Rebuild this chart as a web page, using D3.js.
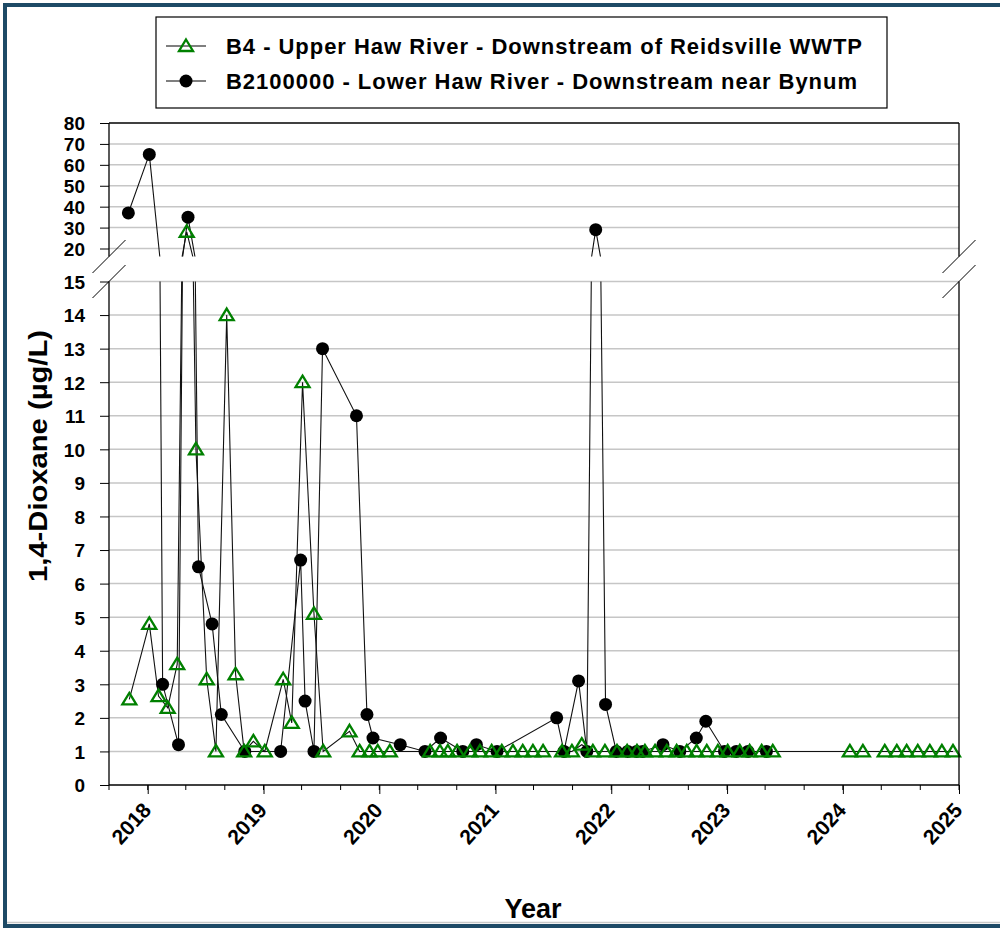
<!DOCTYPE html>
<html>
<head>
<meta charset="utf-8">
<script src="https://cdn.jsdelivr.net/npm/d3@7"></script>
<style>
body { margin: 0; background: #fff; }
text { font-family: "Liberation Sans", Arial, sans-serif; font-weight: bold; fill: #000; }
</style>
</head>
<body>
<div id="chart"></div>
<script>
// B4 - Upper Haw River (green triangles)
var b4Dates = ["2017-11-04","2018-01-06","2018-02-04","2018-03-05","2018-04-04","2018-05-04","2018-06-02","2018-07-06",
  "2018-08-04","2018-09-07","2018-10-05","2018-11-01","2018-11-30","2019-01-05","2019-03-04","2019-03-31","2019-05-04",
  "2019-06-09","2019-07-08","2019-09-29","2019-10-31","2019-12-01","2019-12-27","2020-02-03","2020-06-09","2020-07-10",
  "2020-08-04","2020-09-02","2020-10-13","2020-11-13","2020-12-20","2021-01-21","2021-02-25","2021-03-28","2021-04-29",
  "2021-05-31","2021-07-30","2021-08-30","2021-09-30","2021-11-04","2021-12-12","2022-01-19","2022-02-20","2022-03-23",
  "2022-04-17","2022-05-19","2022-06-25","2022-07-26","2022-08-27","2022-09-27","2022-10-29","2022-12-03","2023-01-03",
  "2023-02-10","2023-03-13","2023-04-20","2023-05-25","2024-01-23","2024-03-04","2024-05-12","2024-06-19","2024-07-20",
  "2024-08-24","2024-10-01","2024-11-08","2024-12-13"];
var b4Values = [2.55,4.8,2.65,2.3,3.6,28,10,3.15,
  1,14,3.3,1,1.3,1,3.15,1.85,12,
  5.1,1,1.6,1,1,1,1,1,1,
  1,1,1,1,1,1,1,1,1,
  1,1,1,1.2,1,1,1,1,1,
  1,1,1,1,1,1,1,1,1,
  1,1,1,1,1,1,1,1,1,
  1,1,1,1];

// B2100000 - Lower Haw River near Bynum (black circles)
var bynumDates = ["2017-11-01","2018-01-06","2018-02-17","2018-04-08","2018-05-08","2018-06-10","2018-07-23","2018-08-21",
  "2018-11-03","2019-02-24","2019-04-28","2019-05-12","2019-06-09","2019-07-06","2019-10-21","2019-11-23","2019-12-12",
  "2020-03-07","2020-05-24","2020-07-12","2020-09-20","2020-11-02","2021-01-06","2021-07-13","2021-08-05","2021-09-20",
  "2021-10-16","2021-11-13","2021-12-14","2022-01-17","2022-02-22","2022-03-22","2022-04-10","2022-06-13","2022-08-05",
  "2022-09-26","2022-10-26","2022-12-24","2023-01-30","2023-03-08","2023-05-05"];
var bynumValues = [37,65,3,1.2,35,6.5,4.8,2.1,
  1,1,6.7,2.5,1,13,11,2.1,1.4,
  1.2,1,1.4,1,1.2,1,2,1,3.1,
  1,29,2.4,1,1,1,1,1.2,1,
  1.4,1.9,1,1,1,1];

var lowTicks = [0,1,2,3,4,5,6,7,8,9,10,11,12,13,14,15];
var highTicks = [20,30,40,50,60,70,80];
var yearTicks = [2018,2019,2020,2021,2022,2023,2024,2025];
var legendLabels = ["B4 - Upper Haw River - Downstream of Reidsville WWTP",
                    "B2100000 - Lower Haw River - Downstream near Bynum"];

var W = 1000, H = 931;
var pLeft = 109, pRight = 959, pTop = 123, pBottom = 785;
var lowTop = 281.5, highBottom = 256.5;
var green = "#008000";

var parse = d3.timeParse("%Y-%m-%d");
var b4 = b4Dates.map(function(d, i){ return {date: parse(d), value: b4Values[i]}; });
var bynum = bynumDates.map(function(d, i){ return {date: parse(d), value: bynumValues[i]}; });

var x = d3.scaleTime().domain([new Date(2017, 8, 1), new Date(2025, 0, 1)]).range([pLeft, pRight]);
var yLow = d3.scaleLinear().domain([0, 15]).range([pBottom, lowTop]);
var yHigh = d3.scaleLinear().domain([20, 80]).range([248.5, pTop]);
function yOf(v){ return v > 15.5 ? yHigh(v) : yLow(v); }

var svg = d3.select("#chart").append("svg").attr("width", W).attr("height", H);

// frame
svg.append("rect").attr("x", 0).attr("y", 0).attr("width", W).attr("height", H).attr("fill", "#fff");
svg.append("rect").attr("x", 5).attr("y", 5).attr("width", 1000).attr("height", 921)
  .attr("fill", "none").attr("stroke", "#1d4a66").attr("stroke-width", 4);
svg.append("line").attr("x1", 7).attr("x2", W).attr("y1", 922.5).attr("y2", 922.5)
  .attr("stroke", "#c8c8c8").attr("stroke-width", 1.5);

var defs = svg.append("defs");
defs.append("clipPath").attr("id", "clipLow").append("rect")
  .attr("x", pLeft).attr("y", lowTop).attr("width", pRight - pLeft).attr("height", pBottom - lowTop);
defs.append("clipPath").attr("id", "clipHigh").append("rect")
  .attr("x", pLeft).attr("y", pTop).attr("width", pRight - pLeft).attr("height", highBottom - pTop);

// gridlines
svg.append("g").selectAll("line").data(lowTicks.filter(function(d){ return d > 0; })).enter().append("line")
  .attr("x1", pLeft).attr("x2", pRight).attr("y1", function(d){ return yLow(d); }).attr("y2", function(d){ return yLow(d); })
  .attr("stroke", "#c6c6c6").attr("stroke-width", 1.5);
svg.append("g").selectAll("line").data(highTicks.filter(function(d){ return d < 80; })).enter().append("line")
  .attr("x1", pLeft).attr("x2", pRight).attr("y1", function(d){ return yHigh(d); }).attr("y2", function(d){ return yHigh(d); })
  .attr("stroke", "#c6c6c6").attr("stroke-width", 1.5);

// lines, drawn once per panel so the break cuts them in data space
[["clipLow", yLow], ["clipHigh", yHigh]].forEach(function(p){
  var line = d3.line().x(function(d){ return x(d.date); }).y(function(d){ return p[1](d.value); });
  var g = svg.append("g").attr("clip-path", "url(#" + p[0] + ")");
  [bynum, b4].forEach(function(s){
    g.append("path").datum(s).attr("d", line).attr("fill", "none").attr("stroke", "#111").attr("stroke-width", 1.1);
  });
});

// markers
svg.append("g").selectAll("circle").data(bynum).enter().append("circle")
  .attr("cx", function(d){ return x(d.date); }).attr("cy", function(d){ return yOf(d.value); })
  .attr("r", 6.5).attr("fill", "#000");

function tri(cx, cy){
  return "M" + cx + "," + (cy - 6.5) + "L" + (cx + 7) + "," + (cy + 5) + "L" + (cx - 7) + "," + (cy + 5) + "Z";
}
svg.append("g").selectAll("path").data(b4).enter().append("path")
  .attr("d", function(d){ return tri(x(d.date), yOf(d.value)); })
  .attr("fill", "none").attr("stroke", green).attr("stroke-width", 2.3).attr("stroke-linejoin", "miter");

// axes
var axLow = svg.append("g").attr("transform", "translate(" + pLeft + ",0)")
  .call(d3.axisLeft(yLow).tickValues(lowTicks).tickSize(9).tickPadding(15));
var axHigh = svg.append("g").attr("transform", "translate(" + pLeft + ",0)")
  .call(d3.axisLeft(yHigh).tickValues(highTicks).tickSize(9).tickPadding(15));
[axLow, axHigh].forEach(function(a){
  a.select(".domain").remove();
  a.selectAll("line").attr("stroke", "#000");
  a.selectAll("text").style("font-size", "19px").attr("dy", "0.36em");
});

var axX = svg.append("g").attr("transform", "translate(0," + pBottom + ")")
  .call(d3.axisBottom(x).tickValues(yearTicks.map(function(y){ return new Date(y, 0, 1); }))
    .tickSize(9).tickFormat(d3.timeFormat("%Y")));
axX.select(".domain").remove();
axX.selectAll("line").attr("stroke", "#000");
axX.selectAll("text").style("font-size", "21px").attr("text-anchor", "end")
  .attr("y", 0).attr("dy", 0).attr("transform", "translate(4,26) rotate(-48)");
// minor ticks every four months
svg.append("g").selectAll("line").data(d3.timeMonth.every(4).range(new Date(2017, 8, 1), new Date(2025, 0, 2))).enter()
  .append("line").attr("x1", function(d){ return x(d); }).attr("x2", function(d){ return x(d); })
  .attr("y1", pBottom).attr("y2", pBottom + 5).attr("stroke", "#000");

// frame lines with break
var fr = svg.append("g").attr("stroke", "#000").attr("stroke-width", 1.3);
fr.append("line").attr("x1", pLeft).attr("x2", pRight).attr("y1", pTop).attr("y2", pTop);
fr.append("line").attr("x1", pLeft).attr("x2", pRight).attr("y1", pBottom).attr("y2", pBottom);
[pLeft, pRight].forEach(function(xx){
  fr.append("line").attr("x1", xx).attr("x2", xx).attr("y1", pTop).attr("y2", highBottom);
  fr.append("line").attr("x1", xx).attr("x2", xx).attr("y1", lowTop).attr("y2", pBottom);
  [highBottom, lowTop].forEach(function(yy){
    fr.append("line").attr("x1", xx - 16.5).attr("x2", xx + 16.5).attr("y1", yy + 16.5).attr("y2", yy - 16.5)
      .attr("stroke-width", 1);
  });
});

// axis titles
svg.append("text").attr("transform", "translate(47,456) rotate(-90)").attr("text-anchor", "middle")
  .style("font-size", "26px").attr("textLength", 252).attr("lengthAdjust", "spacingAndGlyphs")
  .text("1,4-Dioxane (µg/L)");
svg.append("text").attr("x", 533).attr("y", 918).attr("text-anchor", "middle").style("font-size", "27px").text("Year");

// legend
var lg = svg.append("g");
lg.append("rect").attr("x", 156).attr("y", 17).attr("width", 731).attr("height", 91)
  .attr("fill", "#fff").attr("stroke", "#000").attr("stroke-width", 1.2);
[46, 81].forEach(function(yy, i){
  lg.append("line").attr("x1", 166).attr("x2", 206).attr("y1", yy).attr("y2", yy).attr("stroke", "#000").attr("stroke-width", 1.2);
  if (i === 0) {
    lg.append("path").attr("d", tri(186, yy)).attr("fill", "none").attr("stroke", green).attr("stroke-width", 2.3);
  } else {
    lg.append("circle").attr("cx", 186).attr("cy", yy).attr("r", 6.5).attr("fill", "#000");
  }
  lg.append("text").attr("x", 226).attr("y", yy + 8).style("font-size", "22px")
    .attr("textLength", i === 0 ? 636 : 631).attr("lengthAdjust", "spacing").text(legendLabels[i]);
});
</script>
</body>
</html>
